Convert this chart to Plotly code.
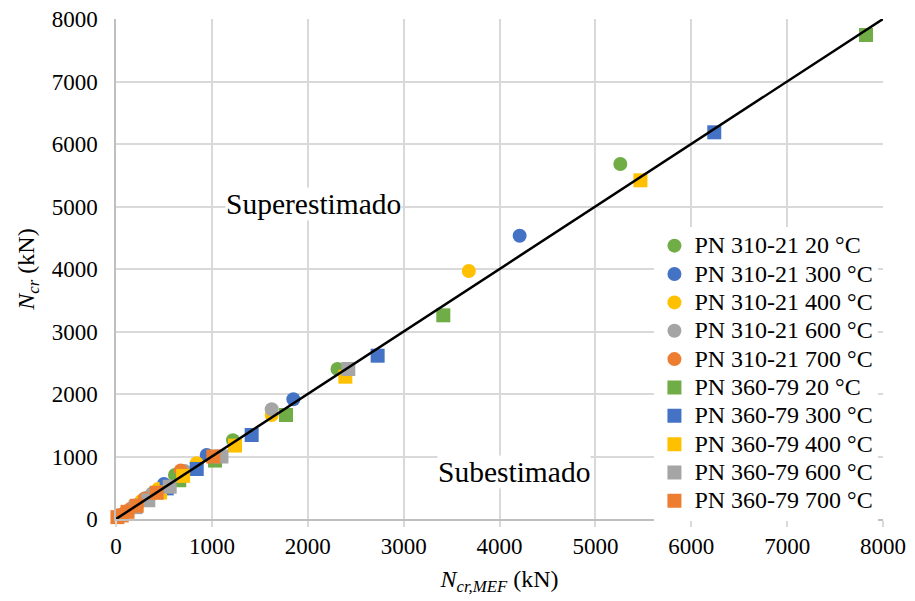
import plotly.graph_objects as go

# Critical load from the FE model (x) against the analytical estimate (y), kN
series_names = [
    "PN 310-21 20 °C", "PN 310-21 300 °C", "PN 310-21 400 °C",
    "PN 310-21 600 °C", "PN 310-21 700 °C",
    "PN 360-79 20 °C", "PN 360-79 300 °C", "PN 360-79 400 °C",
    "PN 360-79 600 °C", "PN 360-79 700 °C",
]

pn310_20_mef = [5260, 2310, 1220, 615, 380]
pn310_20_cr = [5680, 2400, 1262, 704, 410]
pn310_300_mef = [4210, 1850, 946, 500, 305]
pn310_300_cr = [4533, 1915, 1024, 560, 330]
pn310_400_mef = [3680, 1624, 842, 440, 265]
pn310_400_cr = [3968, 1664, 891, 480, 290]
pn310_600_mef = [1624, 716, 376, 200, 120]
pn310_600_cr = [1755, 770, 400, 215, 130]
pn310_700_mef = [675, 300, 158, 85, 50]
pn310_700_cr = [775, 330, 170, 92, 55]

pn360_20_mef = [7823, 3414, 1773, 1033, 660]
pn360_20_cr = [7744, 3259, 1664, 935, 620]
pn360_300_mef = [6240, 2729, 1415, 842, 529]
pn360_300_cr = [6187, 2613, 1344, 800, 490]
pn360_400_mef = [5470, 2392, 1241, 700, 460]
pn360_400_cr = [5419, 2277, 1175, 690, 425]
pn360_600_mef = [2423, 1100, 560, 337, 205]
pn360_600_cr = [2400, 1000, 517, 300, 190]
pn360_700_mef = [1015, 424, 216, 120, 60, 15]
pn360_700_cr = [1000, 420, 212, 115, 58, 30]

xs = [pn310_20_mef, pn310_300_mef, pn310_400_mef, pn310_600_mef, pn310_700_mef,
      pn360_20_mef, pn360_300_mef, pn360_400_mef, pn360_600_mef, pn360_700_mef]
ys = [pn310_20_cr, pn310_300_cr, pn310_400_cr, pn310_600_cr, pn310_700_cr,
      pn360_20_cr, pn360_300_cr, pn360_400_cr, pn360_600_cr, pn360_700_cr]

# 1:1 reference line
ref_line = [0, 8000]

colors = ["#70AD47", "#4472C4", "#FFC000", "#A5A5A5", "#ED7D31"] * 2
symbols = ["circle"] * 5 + ["square"] * 5

serif = "Liberation Serif"

fig = go.Figure()
for i, name in enumerate(series_names):
    fig.add_trace(go.Scatter(
        x=xs[i], y=ys[i], mode="markers",
        # legend rows stay compact while the label itself is drawn larger
        name=f'<span style="font-size:24px">{name}</span>',
        legendgroup=name,
        marker=dict(symbol=symbols[i], color=colors[i], size=14, line=dict(width=0)),
        cliponaxis=False,
    ))

fig.add_trace(go.Scatter(
    x=ref_line, y=ref_line, mode="lines", showlegend=False,
    line=dict(color="black", width=2.5), cliponaxis=False,
))

axis_common = dict(
    range=[0, 8000], dtick=1000, tick0=0, automargin=False,
    showgrid=True, gridcolor="#d9d9d9", gridwidth=1.5,
    zeroline=False, showline=True, linecolor="#bfbfbf", linewidth=1.5,
    tickfont=dict(family=serif, size=23, color="black"),
)

fig.update_layout(
    width=915, height=601,
    margin=dict(l=116, r=32, t=19, b=82),
    paper_bgcolor="white", plot_bgcolor="white",
    font=dict(family=serif, color="black"),
    xaxis=dict(
        **axis_common,
        ticks="outside", ticklen=6, tickcolor="#d9d9d9", tickwidth=1.5,
        title=dict(text="<i>N</i><sub><i>cr,MEF</i></sub> (kN)",
                   font=dict(family=serif, size=24), standoff=12),
    ),
    yaxis=dict(
        **axis_common,
        ticks="", ticklabelstandoff=12,
        title=dict(text="<i>N</i><sub><i>cr</i></sub> (kN)",
                   font=dict(family=serif, size=24), standoff=10),
    ),
    legend=dict(
        x=0.702, y=0.585, xanchor="left", yanchor="top",
        bgcolor="white", borderwidth=0,
        font=dict(family=serif, size=19.5, color="black"),
        tracegroupgap=0, itemwidth=30,
    ),
    showlegend=True,
)

fig.add_annotation(x=2055, y=5040, xref="x", yref="y", text="Superestimado",
                   showarrow=False, font=dict(family=serif, size=29.5, color="black"),
                   bgcolor="white", borderpad=0)
fig.add_annotation(x=4151, y=752, xref="x", yref="y", text="Subestimado",
                   showarrow=False, font=dict(family=serif, size=29.5, color="black"),
                   bgcolor="white", borderpad=0)

fig.write_html("out.html")
